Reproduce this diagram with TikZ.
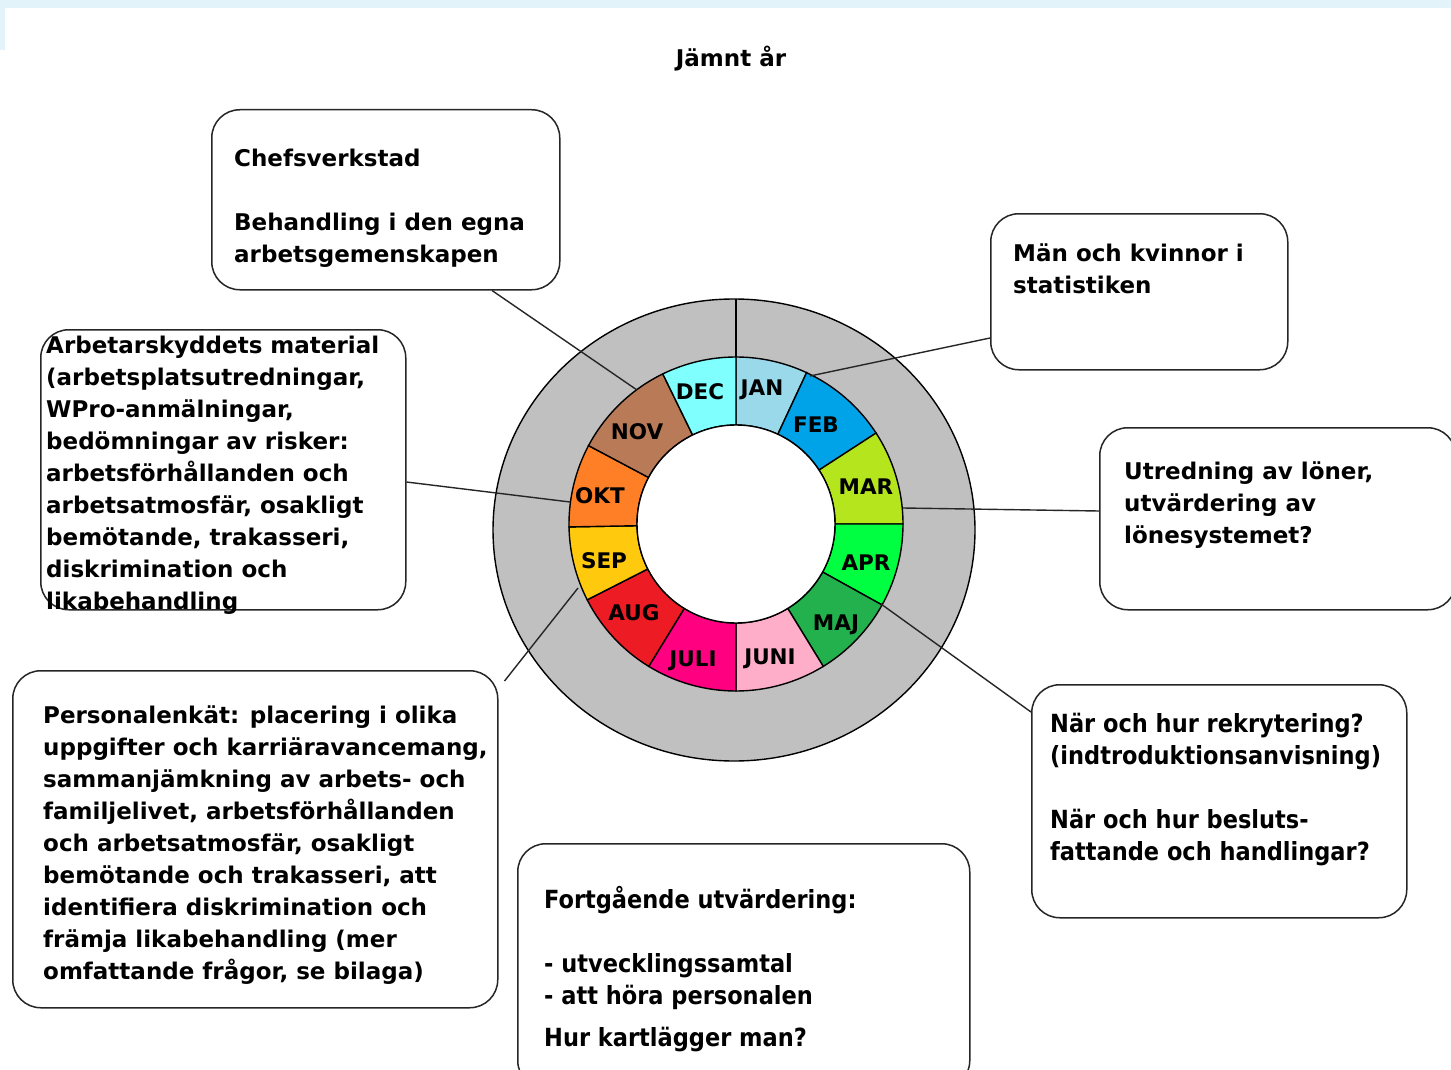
\documentclass[tikz,border=0pt]{standalone}
\usepackage{fontspec}
\setmainfont{DejaVu Sans}
\newfontfamily\condfont{DejaVu Sans Condensed}
\usetikzlibrary{calc}
\definecolor{band}{HTML}{E2F3FA}
\definecolor{ringgray}{HTML}{C0C0C0}
\definecolor{janc}{HTML}{99D9EA}
\definecolor{febc}{HTML}{00A2E8}
\definecolor{marc}{HTML}{B5E61D}
\definecolor{aprc}{HTML}{00FF40}
\definecolor{majc}{HTML}{22B14C}
\definecolor{junc}{HTML}{FFAEC9}
\definecolor{julc}{HTML}{FF0080}
\definecolor{augc}{HTML}{ED1C24}
\definecolor{sepc}{HTML}{FFC90E}
\definecolor{oktc}{HTML}{FF7F27}
\definecolor{novc}{HTML}{B97A57}
\definecolor{decc}{HTML}{80FFFF}
\tikzset{
  box/.style={draw=black!85, line width=1.5pt, rounded corners=28pt, anchor=north west, inner sep=0pt},
  txt/.style={anchor=north west, inner sep=0pt, align=left, font=\bfseries\fontsize{23}{32}\selectfont},
  ctxt/.style={anchor=north west, inner sep=0pt, align=left, font=\condfont\bfseries\fontsize{25}{32}\selectfont},
  mon/.style={anchor=base, inner sep=0pt, font=\bfseries\fontsize{21.5}{25}\selectfont},
  conn/.style={line width=1.4pt, black!85},
  ring/.style={draw=black, line width=1.4pt},
}
\begin{document}
\begin{tikzpicture}[x=1pt, y=-1pt]
\useasboundingbox (0,0) rectangle (1451,1070);
\fill[white] (0,0) rectangle (1451,1070);
\fill[band] (0,0) rectangle (1451,8);
\fill[band] (0,8) rectangle (5,50);

% title
\node[anchor=base, inner sep=0pt, font=\bfseries\fontsize{23}{32}\selectfont] (title) at (731,66.5) {Jämnt år};

% wheel
\begin{scope}[shift={(736,524)}, x=1pt, y=1pt]
  \path[ring, fill=ringgray] (-2,-6) ellipse [x radius=241pt, y radius=231pt];
  \foreach \a/\b/\c in {65/90/janc, 33/65/febc, 0/33/marc, -29/0/aprc, -58.5/-29/majc,
      -90/-58.5/junc, -121.5/-90/julc, -153/-121.5/augc, -179/-153/sepc, -208/-179/oktc,
      -244/-208/novc, -270/-244/decc}{
    \path[ring, fill=\c] (\a:99pt) -- (\a:167pt) arc[start angle=\a, end angle=\b, radius=167pt]
      -- (\b:99pt) arc[start angle=\b, end angle=\a, radius=99pt] -- cycle;
  }
  \path[ring, fill=white] (0,0) circle[radius=99pt];
  \draw[ring] (0,167) -- (0,225);
\end{scope}

% month labels
\node[mon] (dec) at (700,399) {DEC};
\node[mon] (jan) at (762,395) {JAN};
\node[mon] (feb) at (816,432) {FEB};
\node[mon] (mar) at (866,494) {MAR};
\node[mon] (apr) at (866,570) {APR};
\node[mon] (maj) at (836,630) {MAJ};
\node[mon] (jun) at (770,664) {JUNI};
\node[mon] (jul) at (693,666) {JULI};
\node[mon] (aug) at (634,620) {AUG};
\node[mon] (sep) at (604,568) {SEP};
\node[mon] (okt) at (600,503) {OKT};
\node[mon] (nov) at (637,439) {NOV};

% boxes
\node[box, minimum width=348pt, minimum height=180pt] (chef) at (211,109) {};
\node[box, minimum width=365pt, minimum height=280pt] (arb) at (40,329) {};
\node[box, minimum width=297pt, minimum height=156pt] (man) at (990,213) {};
\node[box, minimum width=356pt, minimum height=182pt] (utr) at (1099,427) {};
\node[box, minimum width=375pt, minimum height=233pt] (nar) at (1031,684) {};
\node[box, minimum width=485pt, minimum height=337pt] (pers) at (12,670) {};
\node[box, minimum width=452pt, minimum height=245pt] (fort) at (517,843) {};

% texts
\node[txt] (chefT) at (234,144) {\strut Chefsverkstad\\[32pt]Behandling i den egna\\arbetsgemenskapen};
\node[txt] (arbT) at (46,331) {\strut Arbetarskyddets material\\(arbetsplatsutredningar,\\WPro-anmälningar,\\bedömningar av risker:\\arbetsförhållanden och\\arbetsatmosfär, osakligt\\bemötande, trakasseri,\\diskrimination och\\likabehandling};
\node[txt] (manT) at (1013,239) {\strut Män och kvinnor i\\statistiken};
\node[txt] (utrT) at (1124,457) {\strut Utredning av löner,\\utvärdering av\\lönesystemet?};
\node[ctxt] (narT) at (1050,710) {\strut När och hur rekrytering?\\(indtroduktionsanvisning)\\[32pt]När och hur besluts-\\fattande och handlingar?};
\node[txt] (persT) at (43,701) {\strut Personalenkät: placering i olika\\uppgifter och karriäravancemang,\\sammanjämkning av arbets- och\\familjelivet, arbetsförhållanden\\och arbetsatmosfär, osakligt\\bemötande och trakasseri, att\\identifiera diskrimination och\\främja likabehandling (mer\\omfattande frågor, se bilaga)};
\node[ctxt] (fortT) at (544,886) {\strut Fortgående utvärdering:\\[32pt]- utvecklingssamtal\\- att höra personalen\\[10pt]Hur kartlägger man?};

% connector end points on the wheel
\coordinate (w1) at (637,390);
\coordinate (w2) at (570,502);
\coordinate (w3) at (810,376);
\coordinate (w4) at (903,508);
\coordinate (w5) at (881,604);
\coordinate (w6) at (578,588);

\draw[conn] ($(chef.south west)+(281,0)$) -- (w1);
\draw[conn] ($(arb.north east)+(0,153)$) -- (w2);
\draw[conn] ($(man.north west)+(0,125)$) -- (w3);
\draw[conn] ($(utr.north west)+(0,84)$) -- (w4);
\draw[conn] ($(nar.north west)+(0,28)$) -- (w5);
\draw[conn] ($(pers.north east)+(6,11)$) -- (w6);
\end{tikzpicture}
\end{document}
